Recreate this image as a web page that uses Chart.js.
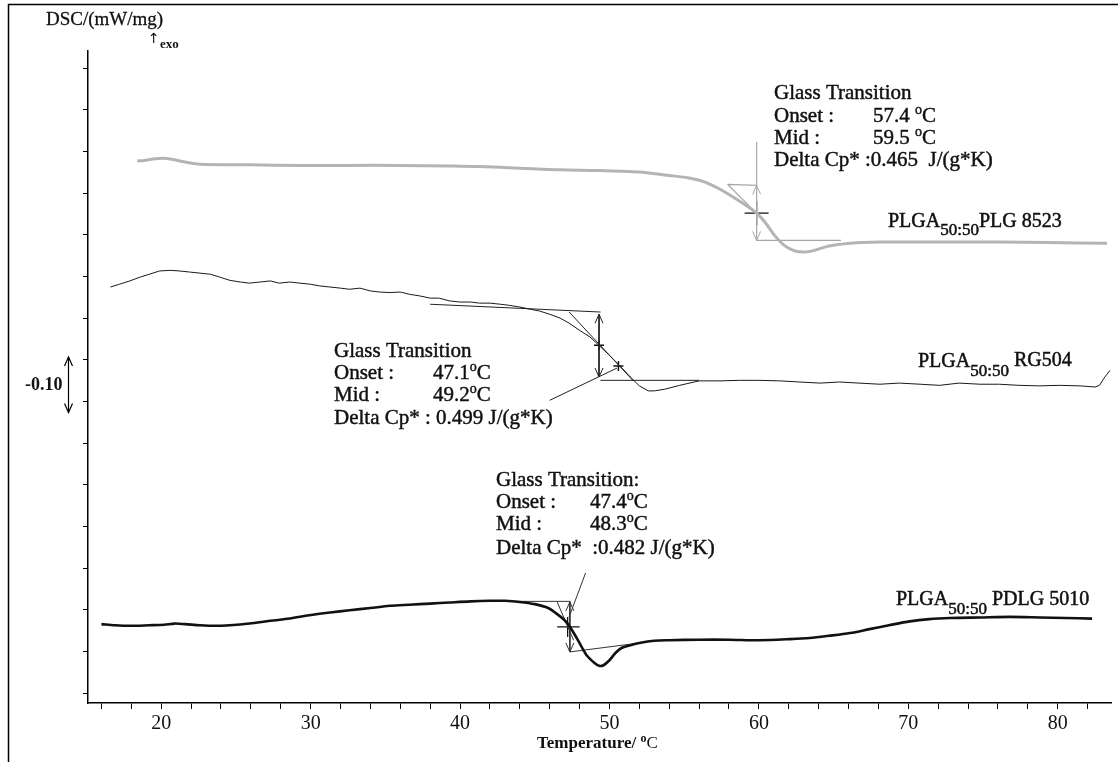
<!DOCTYPE html>
<html>
<head>
<meta charset="utf-8">
<script src="https://cdn.jsdelivr.net/npm/chart.js@4.4.1/dist/chart.umd.min.js"></script>
<style>
html, body { margin: 0; padding: 0; background: #fff; }
#wrap { position: relative; width: 1118px; height: 762px; }
</style>
</head>
<body>
<div id="wrap"><canvas id="dscChart"></canvas></div>
<script>
// Temperature axis (°C) and DSC signal (mW/mg, curves stacked with offsets)
const X_MIN = 15.1, X_MAX = 83.6;
const Y_MIN = -0.018, Y_MAX = 1.156;
const Y_STEP = 0.075;
const X_LABELS = [20, 30, 40, 50, 60, 70, 80];

// PLGA 50:50 PLG 8523 (grey trace)
const plg8523Temp = [18.4, 18.9, 19.6, 20.1, 20.7, 21.6, 22.6, 25.9, 29.3, 32.6,
  36.0, 39.3, 41.3, 44.0, 46.7, 49.3, 52.0, 54.0, 55.4, 56.4,
  57.4, 58.4, 59.2, 59.85, 60.4, 61.05, 61.7, 62.4, 63.1, 63.7,
  64.7, 66.1, 68.1, 72.8, 76.1, 79.4, 83.3];
const plg8523Dsc = [0.958, 0.959, 0.962, 0.963, 0.961, 0.956, 0.952, 0.951, 0.950, 0.950,
  0.950, 0.949, 0.948, 0.945, 0.942, 0.941, 0.938, 0.932, 0.927, 0.920,
  0.907, 0.891, 0.877, 0.864, 0.848, 0.824, 0.806, 0.796, 0.794, 0.797,
  0.805, 0.810, 0.812, 0.812, 0.812, 0.811, 0.810];

// PLGA 50:50 RG504 (thin noisy trace)
const rg504Temp = [16.6, 17.2, 17.9, 18.6, 19.2, 19.9, 20.6, 21.2, 21.9, 22.6,
  23.3, 23.9, 24.6, 25.3, 25.9, 26.6, 27.3, 27.9, 28.6, 29.3,
  30.0, 30.6, 31.3, 32.0, 32.6, 33.3, 34.0, 34.6, 35.3, 36.0,
  36.6, 37.3, 38.0, 38.6, 39.3, 40.0, 40.7, 41.3, 42.0, 42.7,
  43.3, 44.0, 44.7, 45.3, 46.0, 46.7, 47.3, 48.0, 48.7, 49.3,
  50.0, 50.7, 51.4, 52.0, 52.6, 53.0, 53.7, 54.7, 56.0, 57.4,
  58.7, 60.0, 61.4, 62.7, 64.1, 65.4, 66.7, 68.1, 69.4, 70.8,
  72.1, 73.4, 74.8, 76.1, 77.4, 78.8, 80.1, 81.5, 82.5, 82.8,
  83.1, 83.5];
const rg504Dsc = [0.731, 0.736, 0.742, 0.749, 0.754, 0.760, 0.761, 0.760, 0.758, 0.756,
  0.754, 0.749, 0.743, 0.740, 0.738, 0.740, 0.742, 0.738, 0.740, 0.738,
  0.736, 0.733, 0.731, 0.729, 0.727, 0.729, 0.724, 0.722, 0.721, 0.722,
  0.718, 0.715, 0.711, 0.711, 0.706, 0.704, 0.704, 0.702, 0.702, 0.700,
  0.698, 0.695, 0.691, 0.688, 0.682, 0.675, 0.666, 0.653, 0.641, 0.626,
  0.608, 0.589, 0.569, 0.553, 0.544, 0.544, 0.547, 0.554, 0.562, 0.562,
  0.563, 0.563, 0.562, 0.560, 0.558, 0.560, 0.558, 0.556, 0.558, 0.556,
  0.554, 0.558, 0.556, 0.556, 0.554, 0.553, 0.554, 0.553, 0.551, 0.554,
  0.567, 0.581];

// PLGA 50:50 PDLG 5010 (thick trace)
const pdlg5010Temp = [16.0, 16.9, 17.9, 19.2, 20.2, 20.9, 21.6, 22.6, 23.6, 24.6,
  25.9, 27.3, 28.6, 29.9, 31.3, 32.6, 34.0, 35.3, 36.6, 38.0,
  39.3, 40.7, 42.0, 43.0, 44.0, 45.0, 45.9, 46.5, 47.0, 47.3,
  47.7, 48.1, 48.5, 49.0, 49.3, 49.6, 50.0, 50.4, 50.8, 51.4,
  52.0, 53.0, 54.0, 56.0, 58.0, 60.0, 62.1, 63.4, 64.7, 66.1,
  67.4, 68.7, 70.1, 71.4, 72.8, 74.8, 76.8, 78.8, 80.5, 82.3];
const pdlg5010Dsc = [0.124, 0.122, 0.121, 0.122, 0.123, 0.125, 0.124, 0.122, 0.121, 0.122,
  0.125, 0.130, 0.134, 0.140, 0.145, 0.149, 0.153, 0.157, 0.159, 0.161,
  0.163, 0.165, 0.166, 0.166, 0.164, 0.160, 0.153, 0.142, 0.131, 0.121,
  0.104, 0.085, 0.067, 0.054, 0.049, 0.050, 0.059, 0.072, 0.081, 0.086,
  0.090, 0.094, 0.095, 0.096, 0.096, 0.095, 0.097, 0.099, 0.103, 0.108,
  0.115, 0.122, 0.129, 0.133, 0.135, 0.136, 0.137, 0.136, 0.135, 0.134];

// glass transition constructions, segments as [t1, y1, t2, y2]
const plg8523Guides = [[57.9, 0.916, 59.85, 0.914], [57.9, 0.916, 60.5, 0.846],
  [59.85, 0.815, 65.5, 0.815], [59.85, 0.992, 59.85, 0.914]];
const plg8523Step = [[59.85, 0.914, 59.85, 0.815]];
const plg8523Cross = [[59.05, 0.864, 60.65, 0.864], [59.85, 0.886, 59.85, 0.842]];

const rg504Guides = [[38.0, 0.700, 49.4, 0.686], [47.3, 0.686, 51.6, 0.562],
  [49.4, 0.563, 56.0, 0.563], [46.0, 0.527, 50.5, 0.585]];
const rg504Step = [[49.3, 0.682, 49.3, 0.569]];
const rg504Marks = [[49.3, 0.626], [50.6, 0.589]];

const pdlg5010Guides = [[42.0, 0.165, 47.4, 0.165], [46.5, 0.164, 47.6, 0.095],
  [47.35, 0.074, 52.0, 0.090], [47.3, 0.137, 48.4, 0.216]];
const pdlg5010Step = [[47.35, 0.164, 47.35, 0.074]];
const pdlg5010Cross = [[46.5, 0.119, 48.0, 0.119], [47.2, 0.137, 47.2, 0.101]];

// scale bar next to the y axis: -0.10 mW/mg
const SCALE_BAR = [0.505, 0.605];

function toPoints(xs, ys) {
  return xs.map((x, i) => ({ x: x, y: ys[i] }));
}
function segPoints(segs) {
  const pts = [];
  segs.forEach(s => {
    pts.push({ x: s[0], y: s[1] }, { x: s[2], y: s[3] }, { x: s[2], y: null });
  });
  return pts;
}
function lineSet(data, color, width, extra) {
  return Object.assign({ data: data, borderColor: color, borderWidth: width,
    pointRadius: 0, fill: false, tension: 0.3, spanGaps: false }, extra || {});
}

const SERIF = '"Liberation Serif", "DejaVu Serif", serif';

// text runs with sub/superscripts; a thin stroke thickens the serif a little
function rich(ctx, x, y, parts, heavy) {
  let cx = x;
  parts.forEach(p => {
    ctx.font = p.font;
    ctx.fillText(p.text, cx, y + (p.dy || 0));
    if (heavy) {
      ctx.lineWidth = heavy;
      ctx.strokeText(p.text, cx, y + (p.dy || 0));
    }
    cx += ctx.measureText(p.text).width;
  });
}

const framePlugin = {
  id: 'frame',
  beforeDraw(chart) {
    const ctx = chart.ctx;
    ctx.save();
    ctx.strokeStyle = '#000';
    ctx.lineWidth = 1.5;
    ctx.beginPath();
    ctx.moveTo(8.5, 762);
    ctx.lineTo(8.5, 4.5);
    ctx.lineTo(1118, 4.5);
    ctx.stroke();
    ctx.restore();
  }
};

function chevron(ctx, x, y, dir) {
  // dir: -1 points up, 1 points down
  ctx.beginPath();
  ctx.moveTo(x - 4, y - dir * 9);
  ctx.lineTo(x, y);
  ctx.lineTo(x + 4, y - dir * 9);
  ctx.stroke();
}

const arrowPlugin = {
  id: 'stepArrows',
  afterDatasetsDraw(chart) {
    const ctx = chart.ctx;
    ctx.save();
    chart.data.datasets.forEach((ds, i) => {
      if (!ds.arrowEnds) return;
      const pts = chart.getDatasetMeta(i).data;
      ctx.strokeStyle = ds.borderColor;
      ctx.lineWidth = 1;
      const a = pts[0], b = pts[1];
      chevron(ctx, a.x, a.y, a.y < b.y ? -1 : 1);
      chevron(ctx, b.x, b.y, a.y < b.y ? 1 : -1);
    });
    // scale bar in the left margin
    const ys = chart.scales.y;
    const y1 = ys.getPixelForValue(SCALE_BAR[1]);
    const y2 = ys.getPixelForValue(SCALE_BAR[0]);
    ctx.strokeStyle = '#000';
    ctx.lineWidth = 1.2;
    ctx.beginPath();
    ctx.moveTo(68.5, y1);
    ctx.lineTo(68.5, y2);
    ctx.stroke();
    chevron(ctx, 68.5, y1, -1);
    chevron(ctx, 68.5, y2, 1);
    ctx.restore();
  }
};

const textPlugin = {
  id: 'labels',
  afterDraw(chart) {
    const ctx = chart.ctx;
    const f = '21px ' + SERIF;
    const fs = '14px ' + SERIF;
    const fl = '20px ' + SERIF;
    const fsub = '17px ' + SERIF;
    const H = 0.45;
    ctx.save();
    ctx.fillStyle = '#111';
    ctx.strokeStyle = '#111';
    ctx.textBaseline = 'middle';
    ctx.textAlign = 'left';

    // y axis title
    rich(ctx, 46, 20, [{ text: 'DSC/(mW/mg)', font: '19px ' + SERIF }], 0.3);
    rich(ctx, 148, 39, [{ text: '\u2191', font: '14px "DejaVu Sans"' }]);
    rich(ctx, 160, 45, [{ text: 'exo', font: 'bold 13px ' + SERIF }]);
    rich(ctx, 25, 385, [{ text: '-0.10', font: 'bold 18px ' + SERIF }]);

    // x axis title
    rich(ctx, 537, 744, [
      { text: 'Temperature/ ', font: 'bold 17px ' + SERIF },
      { text: 'o', font: 'bold 12px ' + SERIF, dy: -5 },
      { text: 'C', font: '17px ' + SERIF }
    ]);

    // PLG 8523 annotation
    const deg = (v, x, y) => rich(ctx, x, y, [
      { text: v, font: f }, { text: 'o', font: fs, dy: -6 }, { text: 'C', font: f }], H);
    rich(ctx, 774, 93, [{ text: 'Glass Transition', font: f }], H);
    rich(ctx, 774, 116, [{ text: 'Onset :', font: f }], H);
    deg('57.4 ', 873, 116);
    rich(ctx, 774, 138, [{ text: 'Mid :', font: f }], H);
    deg('59.5 ', 873, 138);
    rich(ctx, 774, 160, [{ text: 'Delta Cp* :0.465  J/(g*K)', font: f }], H);

    // RG504 annotation
    rich(ctx, 334, 351, [{ text: 'Glass Transition', font: f }], H);
    rich(ctx, 334, 373, [{ text: 'Onset :', font: f }], H);
    deg('47.1', 433, 373);
    rich(ctx, 334, 395, [{ text: 'Mid :', font: f }], H);
    deg('49.2', 433, 395);
    rich(ctx, 334, 418, [{ text: 'Delta Cp* : 0.499 J/(g*K)', font: f }], H);

    // PDLG 5010 annotation
    rich(ctx, 496, 480, [{ text: 'Glass Transition:', font: f }], H);
    rich(ctx, 496, 502, [{ text: 'Onset :', font: f }], H);
    deg('47.4', 590, 502);
    rich(ctx, 496, 524, [{ text: 'Mid :', font: f }], H);
    deg('48.3', 590, 524);
    rich(ctx, 496, 548, [{ text: 'Delta Cp*  :0.482 J/(g*K)', font: f }], H);

    // sample labels
    rich(ctx, 888, 222, [{ text: 'PLGA', font: fl }, { text: '50:50', font: fsub, dy: 9 },
      { text: 'PLG 8523', font: fl }], 0.5);
    rich(ctx, 918, 362, [{ text: 'PLGA', font: fl }, { text: '50:50', font: fsub, dy: 10 },
      { text: ' RG504', font: fl, dy: -1 }], 0.5);
    rich(ctx, 896, 600, [{ text: 'PLGA', font: fl }, { text: '50:50', font: fsub, dy: 10 },
      { text: ' PDLG 5010', font: fl }], 0.5);
    ctx.restore();
  }
};

const ctx = document.getElementById('dscChart').getContext('2d');
const dscChart = new Chart(ctx, {
  type: 'line',
  data: {
    datasets: [
      lineSet(toPoints(plg8523Temp, plg8523Dsc), '#b4b4b4', 3),
      lineSet(toPoints(rg504Temp, rg504Dsc), '#1a1a1a', 1, { tension: 0 }),
      lineSet(toPoints(pdlg5010Temp, pdlg5010Dsc), '#111', 2.6),
      lineSet(segPoints(plg8523Guides), '#a6a6a6', 1.2, { tension: 0 }),
      lineSet(segPoints(plg8523Step), '#a6a6a6', 1.2, { tension: 0, arrowEnds: true }),
      lineSet(segPoints(plg8523Cross), '#111', 1.2, { tension: 0 }),
      lineSet(segPoints(rg504Guides), '#222', 1, { tension: 0 }),
      lineSet(segPoints(rg504Step), '#222', 1, { tension: 0, arrowEnds: true }),
      lineSet(rg504Marks.map(p => ({ x: p[0], y: p[1] })), '#111', 1.5,
        { showLine: false, pointRadius: 5, pointStyle: 'cross', pointBorderWidth: 1.5 }),
      lineSet(segPoints(pdlg5010Guides), '#333', 1, { tension: 0 }),
      lineSet(segPoints(pdlg5010Step), '#333', 1, { tension: 0, arrowEnds: true }),
      lineSet(segPoints(pdlg5010Cross), '#111', 1.3, { tension: 0 })
    ]
  },
  options: {
    responsive: true,
    maintainAspectRatio: false,
    animation: false,
    layout: { padding: { top: 51, right: 6, bottom: 0, left: 0 } },
    plugins: { legend: { display: false }, tooltip: { enabled: false } },
    scales: {
      x: {
        type: 'linear',
        min: X_MIN,
        max: X_MAX,
        afterFit(scale) { scale.height = 59; },
        border: { color: '#000', width: 1.5 },
        grid: { drawOnChartArea: false, drawTicks: true, tickLength: 6, color: '#000' },
        ticks: {
          stepSize: 2,
          includeBounds: false,
          autoSkip: false,
          maxRotation: 0,
          padding: 3,
          color: '#111',
          font: { family: SERIF, size: 20 },
          callback: v => (X_LABELS.includes(Math.round(v)) && Math.abs(v - Math.round(v)) < 1e-6) ? String(Math.round(v)) : ''
        }
      },
      y: {
        type: 'linear',
        min: Y_MIN,
        max: Y_MAX,
        afterFit(scale) { scale.width = 88; },
        border: { color: '#000', width: 1.5 },
        grid: { drawOnChartArea: false, drawTicks: true, tickLength: 5, color: '#000' },
        ticks: { stepSize: Y_STEP, includeBounds: false, callback: () => '' }
      }
    }
  },
  plugins: [framePlugin, arrowPlugin, textPlugin]
});
</script>
</body>
</html>
